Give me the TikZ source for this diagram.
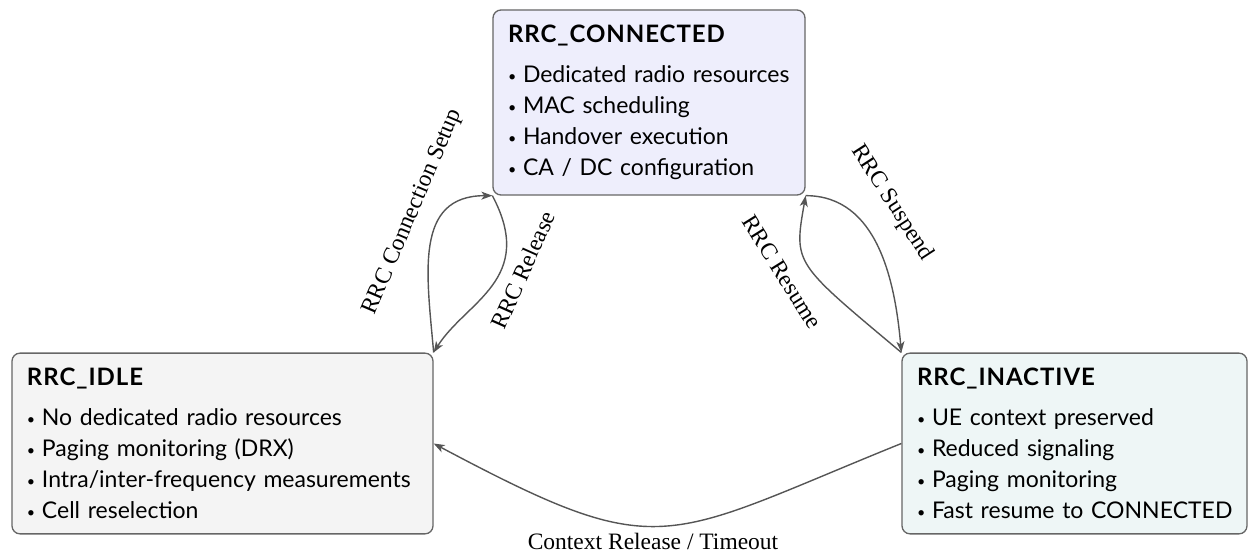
\documentclass[tikz,border=0pt]{standalone}
\usepackage{fontspec}
\usepackage{graphicx}
\newfontfamily\boxfont{Lato}
\newfontfamily\boxtitlefont{Lato}[LetterSpace=4]
\setmainfont{Liberation Serif}
\usetikzlibrary{arrows.meta}
\definecolor{connFill}{HTML}{EEEEFC}
\definecolor{idleFill}{HTML}{F4F4F4}
\definecolor{inactFill}{HTML}{EEF6F6}
\definecolor{boxLine}{HTML}{666666}
\definecolor{arrowLine}{HTML}{555555}
\tikzset{
  statebox/.style={draw=boxLine, line width=1.3pt, rounded corners=8pt,
    inner sep=15pt, align=left, anchor=center,
    font=\boxfont\fontsize{23}{31}\selectfont},
  trans/.style={draw=arrowLine, line width=1.4pt,
    -{Stealth[length=11pt,width=8pt,inset=3pt]}},
  translabel/.style={font=\fontsize{23.5}{28}\selectfont, inner sep=0pt},
}
\newcommand{\statetitle}[1]{{\boxtitlefont\bfseries\fontsize{24}{31}\selectfont #1}}
\newcommand{\bul}{\makebox[15pt][l]{\raisebox{1.5pt}{\scalebox{0.62}{\textbullet}}}}
\newcommand{\oneline}[1]{\makebox[\linewidth][l]{#1}}
\begin{document}
\begin{tikzpicture}[x=1pt,y=1pt]
\useasboundingbox (0,0) rectangle (1248,552);

% states
\node[statebox, fill=connFill, text width=282pt, minimum height=185pt]
  (connected) at (649,449.5) {\statetitle{RRC\_CONNECTED}\\[9pt]
  \bul Dedicated radio resources\\
  \bul MAC scheduling\\
  \bul Handover execution\\
  \bul CA / DC configuration};

\node[statebox, fill=idleFill, text width=391pt, minimum height=179pt]
  (idle) at (222.5,108.5) {\statetitle{RRC\_IDLE}\\[9pt]
  \bul No dedicated radio resources\\
  \bul Paging monitoring (DRX)\\
  \bul Intra/inter-frequency measurements\\
  \bul Cell reselection};

\node[statebox, fill=inactFill, text width=315pt, minimum height=179pt]
  (inactive) at (1074.5,108.5) {\statetitle{RRC\_INACTIVE}\\[9pt]
  \bul UE context preserved\\
  \bul Reduced signaling\\
  \bul Paging monitoring\\
  \oneline{\bul Fast resume to CONNECTED}};

% transitions
\draw[trans] (idle.north east) to[out=95,in=180,looseness=1.2] (connected.south west);
\draw[trans] (connected.south west) to[out=-62,in=58,out distance=95pt,in distance=60pt] (idle.north east);
\draw[trans] (connected.south east) to[out=0,in=95] (inactive.north west);
\draw[trans] (inactive.north west) to[out=140,in=-100,out distance=140pt,in distance=70pt] (connected.south east);
\draw[trans] (inactive.west) to[out=202,in=-28,distance=260pt] (idle.east);

% transition labels
\node[translabel, rotate=67] (lblSetup) at (413,340) {RRC Connection Setup};
\node[translabel, rotate=66] (lblRelease) at (523,282) {RRC Release};
\node[translabel, rotate=-57] (lblSuspend) at (892,349) {RRC Suspend};
\node[translabel, rotate=-58] (lblResume) at (782,280) {RRC Resume};
\node[translabel, anchor=base] (lblCtx) at (653,3) {Context Release / Timeout};
\end{tikzpicture}
\end{document}
